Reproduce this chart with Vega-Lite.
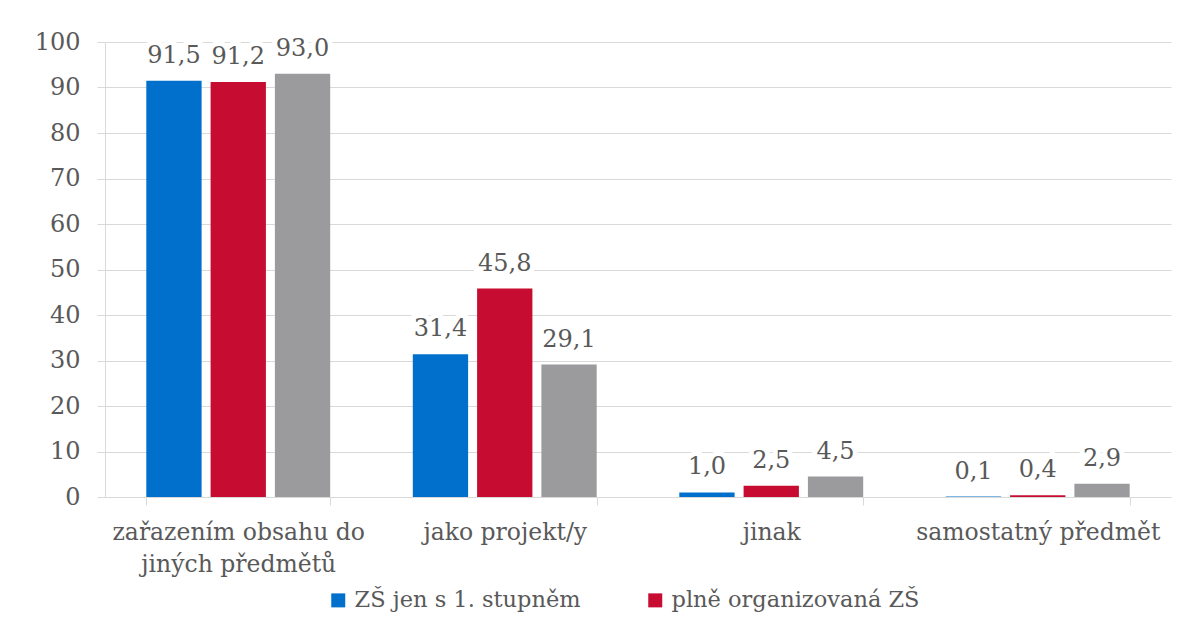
{
  "$schema": "https://vega.github.io/schema/vega-lite/v6.json",
  "width": 1066,
  "height": 455,
  "autosize": {"type": "none"},
  "padding": {"left": 105, "top": 42, "right": 18, "bottom": 123},
  "background": "white",
  "config": {
    "view": {"stroke": null},
    "font": "DejaVu Serif",
    "locale": {"number": {"decimal": ",", "thousands": " ", "grouping": [3], "currency": ["", " Kč"]}}
  },
  "data": {
    "values": [
      {"cat": "zařazením obsahu do|jiných předmětů", "series": "ZŠ jen s 1. stupněm", "value": 91.5},
      {"cat": "zařazením obsahu do|jiných předmětů", "series": "plně organizovaná ZŠ", "value": 91.2},
      {"cat": "zařazením obsahu do|jiných předmětů", "series": "víceletá gymnázia", "value": 93.0},
      {"cat": "jako projekt/y", "series": "ZŠ jen s 1. stupněm", "value": 31.4},
      {"cat": "jako projekt/y", "series": "plně organizovaná ZŠ", "value": 45.8},
      {"cat": "jako projekt/y", "series": "víceletá gymnázia", "value": 29.1},
      {"cat": "jinak", "series": "ZŠ jen s 1. stupněm", "value": 1.0},
      {"cat": "jinak", "series": "plně organizovaná ZŠ", "value": 2.5},
      {"cat": "jinak", "series": "víceletá gymnázia", "value": 4.5},
      {"cat": "samostatný předmět", "series": "ZŠ jen s 1. stupněm", "value": 0.1},
      {"cat": "samostatný předmět", "series": "plně organizovaná ZŠ", "value": 0.4},
      {"cat": "samostatný předmět", "series": "víceletá gymnázia", "value": 2.9}
    ]
  },
  "encoding": {
    "x": {
      "field": "cat",
      "type": "nominal",
      "sort": null,
      "scale": {"paddingInner": 0.31, "paddingOuter": 0.155},
      "axis": {
        "title": null,
        "labelAngle": 0,
        "labelExpr": "split(datum.label, '|')",
        "labelFont": "DejaVu Serif",
        "labelFontSize": 23.5,
        "labelColor": "#595959",
        "labelPadding": 15,
        "labelLineHeight": 32,
        "labelLimit": 0,
        "tickBand": "extent",
        "tickSize": 8,
        "tickColor": "#d9d9d9",
        "domainColor": "#d9d9d9",
        "grid": false
      }
    },
    "xOffset": {
      "field": "series",
      "type": "nominal",
      "sort": ["ZŠ jen s 1. stupněm", "plně organizovaná ZŠ", "víceletá gymnázia"],
      "scale": {"paddingInner": 0.14, "paddingOuter": 0}
    },
    "y": {
      "field": "value",
      "type": "quantitative",
      "scale": {"domain": [0, 100], "nice": false},
      "axis": {
        "title": null,
        "values": [0, 10, 20, 30, 40, 50, 60, 70, 80, 90, 100],
        "labelFont": "DejaVu Serif",
        "labelFontSize": 24,
        "labelColor": "#595959",
        "labelPadding": 17,
        "tickSize": 8,
        "tickColor": "#d9d9d9",
        "domainColor": "#d9d9d9",
        "gridColor": "#d9d9d9"
      }
    }
  },
  "layer": [
    {
      "mark": {"type": "bar"},
      "encoding": {
        "color": {
          "field": "series",
          "type": "nominal",
          "scale": {
            "domain": ["ZŠ jen s 1. stupněm", "plně organizovaná ZŠ", "víceletá gymnázia"],
            "range": ["#0070cc", "#c60c30", "#9b9b9d"]
          },
          "legend": {
            "values": ["ZŠ jen s 1. stupněm", "plně organizovaná ZŠ"],
            "title": null,
            "orient": "none",
            "legendX": 222,
            "legendY": 547,
            "direction": "horizontal",
            "symbolType": "square",
            "symbolSize": 196,
            "symbolStrokeWidth": 0,
            "labelFont": "DejaVu Serif",
            "labelFontSize": 22.5,
            "labelColor": "#595959",
            "labelOffset": 5,
            "labelLimit": 0,
            "columnPadding": 63,
            "padding": 0
          }
        }
      }
    },
    {
      "mark": {"type": "text", "font": "DejaVu Serif", "baseline": "alphabetic", "dy": -18, "fontSize": 24, "stroke": "white", "strokeWidth": 10, "fill": "white"},
      "encoding": {"text": {"field": "value", "type": "quantitative", "format": ".1f"}}
    },
    {
      "mark": {"type": "text", "font": "DejaVu Serif", "baseline": "alphabetic", "dy": -18, "fontSize": 24, "color": "#595959"},
      "encoding": {"text": {"field": "value", "type": "quantitative", "format": ".1f"}}
    }
  ]
}
